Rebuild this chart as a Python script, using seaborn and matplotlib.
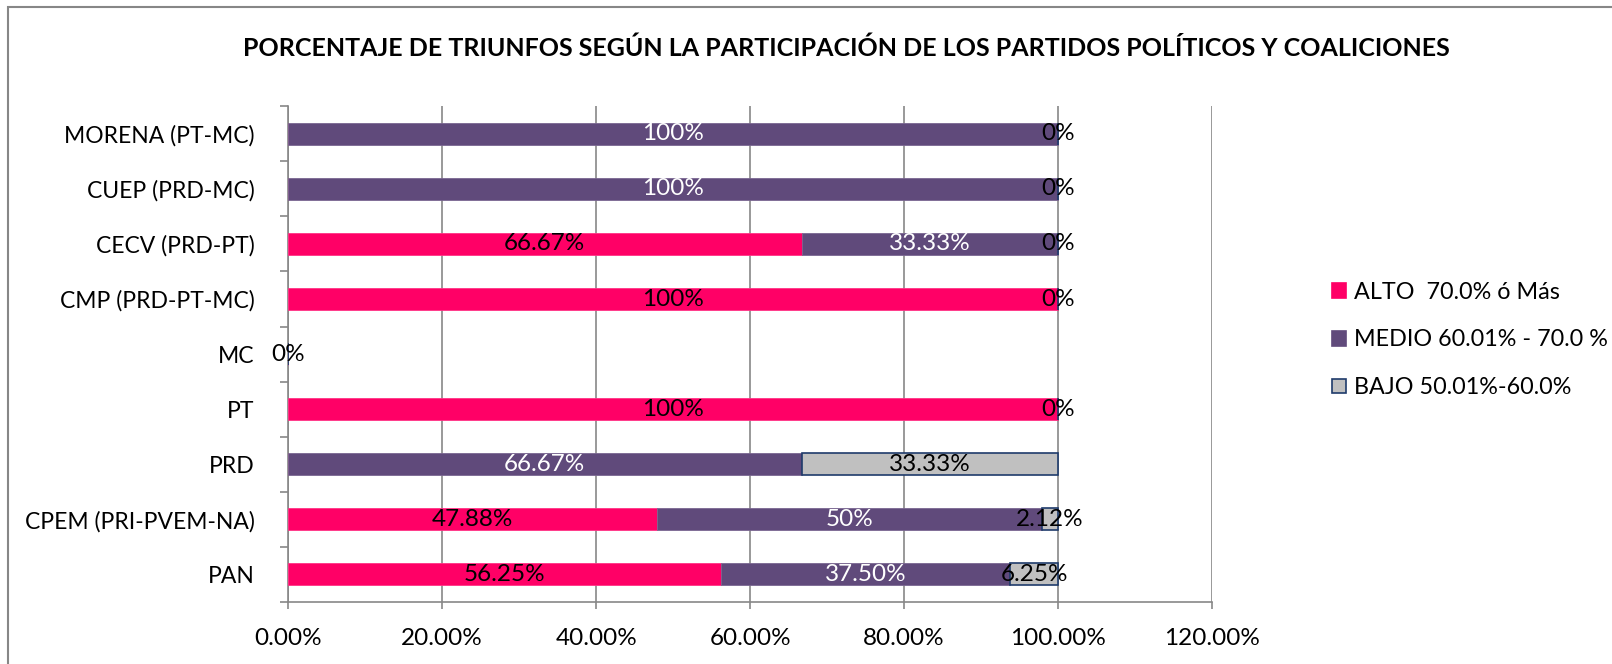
import matplotlib
matplotlib.use('Agg')

import matplotlib.pyplot as plt
import matplotlib.patches as mpatches
import numpy as np
import pandas as pd
import seaborn as sns

# bottom to top, as drawn
partidos = ['PAN', 'CPEM (PRI-PVEM-NA)', 'PRD', 'PT', 'MC',
            'CMP (PRD-PT-MC)', 'CECV (PRD-PT)', 'CUEP (PRD-MC)', 'MORENA (PT-MC)']
# NaN = no label / no segment, 0 = zero label shown
alto = [56.25, 47.88, np.nan, 100, 0, 100, 66.67, np.nan, np.nan]
medio = [37.50, 50, 66.67, np.nan, np.nan, np.nan, 33.33, 100, 100]
bajo = [6.25, 2.12, 33.33, 0, np.nan, 0, 0, 0, 0]

series_names = ['ALTO  70.0% ó Más', 'MEDIO 60.01% - 70.0 %', 'BAJO 50.01%-60.0%']
colores = ['#FF0066', '#604A7B', '#C0C0C0']
bordes = ['#FF3385', '#7A6691', '#1F3B6B']
color_txt = ['black', 'white', 'black']

sns.set_style("white")
plt.rcParams['font.family'] = ['Lato', 'DejaVu Sans']
plt.rcParams['text.color'] = 'black'
plt.rcParams['xtick.labelcolor'] = 'black'
plt.rcParams['ytick.labelcolor'] = 'black'

df = pd.DataFrame({'ALTO': alto, 'MEDIO': medio, 'BAJO': bajo}, index=partidos)

fig = plt.figure(figsize=(16.12, 6.64), dpi=100)
ax = fig.add_axes([0.1787, 0.0934, 0.752 - 0.1787, 0.840 - 0.0934])

y = np.arange(len(partidos))
left = np.zeros(len(partidos))
for i, col in enumerate(['ALTO', 'MEDIO', 'BAJO']):
    vals = df[col].fillna(0).values
    ax.barh(y, vals, left=left, height=0.4, color=colores[i],
            edgecolor=bordes[i], linewidth=1.2 if i == 2 else 0.6,
            label=series_names[i], zorder=3)
    for j, v in enumerate(df[col].values):
        if np.isnan(v):
            continue
        txt = '%d%%' % v if float(v).is_integer() else '%.2f%%' % v
        tc = color_txt[i] if v > 0 else 'black'
        ax.text(left[j] + vals[j] / 2, y[j], txt, ha='center', va='center',
                fontsize=17.5, color=tc, zorder=5)
    left = left + vals

ax.set_xlim(0, 120)
ax.set_ylim(-0.5, len(partidos) - 0.5)
ax.set_xticks(np.arange(0, 121, 20))
ax.set_xticklabels(['%.2f%%' % t for t in np.arange(0, 121, 20)], fontsize=17.5)
ax.set_yticks(y)
ax.set_yticklabels(partidos, fontsize=16.5)
ax.set_yticks(np.arange(-0.5, len(partidos), 1), minor=True)
ax.tick_params(axis='y', which='major', length=0, pad=24)
ax.tick_params(axis='y', which='minor', length=6, width=1.2, color='#878787', direction='out', left=True)
ax.tick_params(axis='x', length=5, width=1.2, color='#878787', direction='out', bottom=True, pad=14)

ax.grid(axis='x', color='#878787', linewidth=1.2, zorder=0)
ax.grid(axis='y', visible=False)
for s in ['top', 'right']:
    ax.spines[s].set_visible(False)
for s in ['left', 'bottom']:
    ax.spines[s].set_color('#878787')
    ax.spines[s].set_linewidth(1.2)

fig.text(0.525, 0.928, 'PORCENTAJE DE TRIUNFOS SEGÚN LA PARTICIPACIÓN DE LOS PARTIDOS POLÍTICOS Y COALICIONES',
         ha='center', va='center', fontsize=18, fontweight='bold', color='black')

handles = [mpatches.Patch(facecolor=colores[i], edgecolor=bordes[i] if i == 2 else colores[i],
                          linewidth=1.2, label=series_names[i]) for i in range(3)]
fig.legend(handles=handles, loc='center left', bbox_to_anchor=(0.813, 0.488), frameon=False,
           fontsize=16.8, handlelength=0.6, handleheight=0.6, handletextpad=0.35, labelspacing=1.15)

# chart frame
fig.patches.append(mpatches.Rectangle((8 / 1612, -0.1), 1.2, 1 - 7 / 664 + 0.1,
                                      transform=fig.transFigure, fill=False,
                                      edgecolor='#878787', linewidth=1.5))

plt.savefig('out.png', dpi=100)
plt.close(fig)
